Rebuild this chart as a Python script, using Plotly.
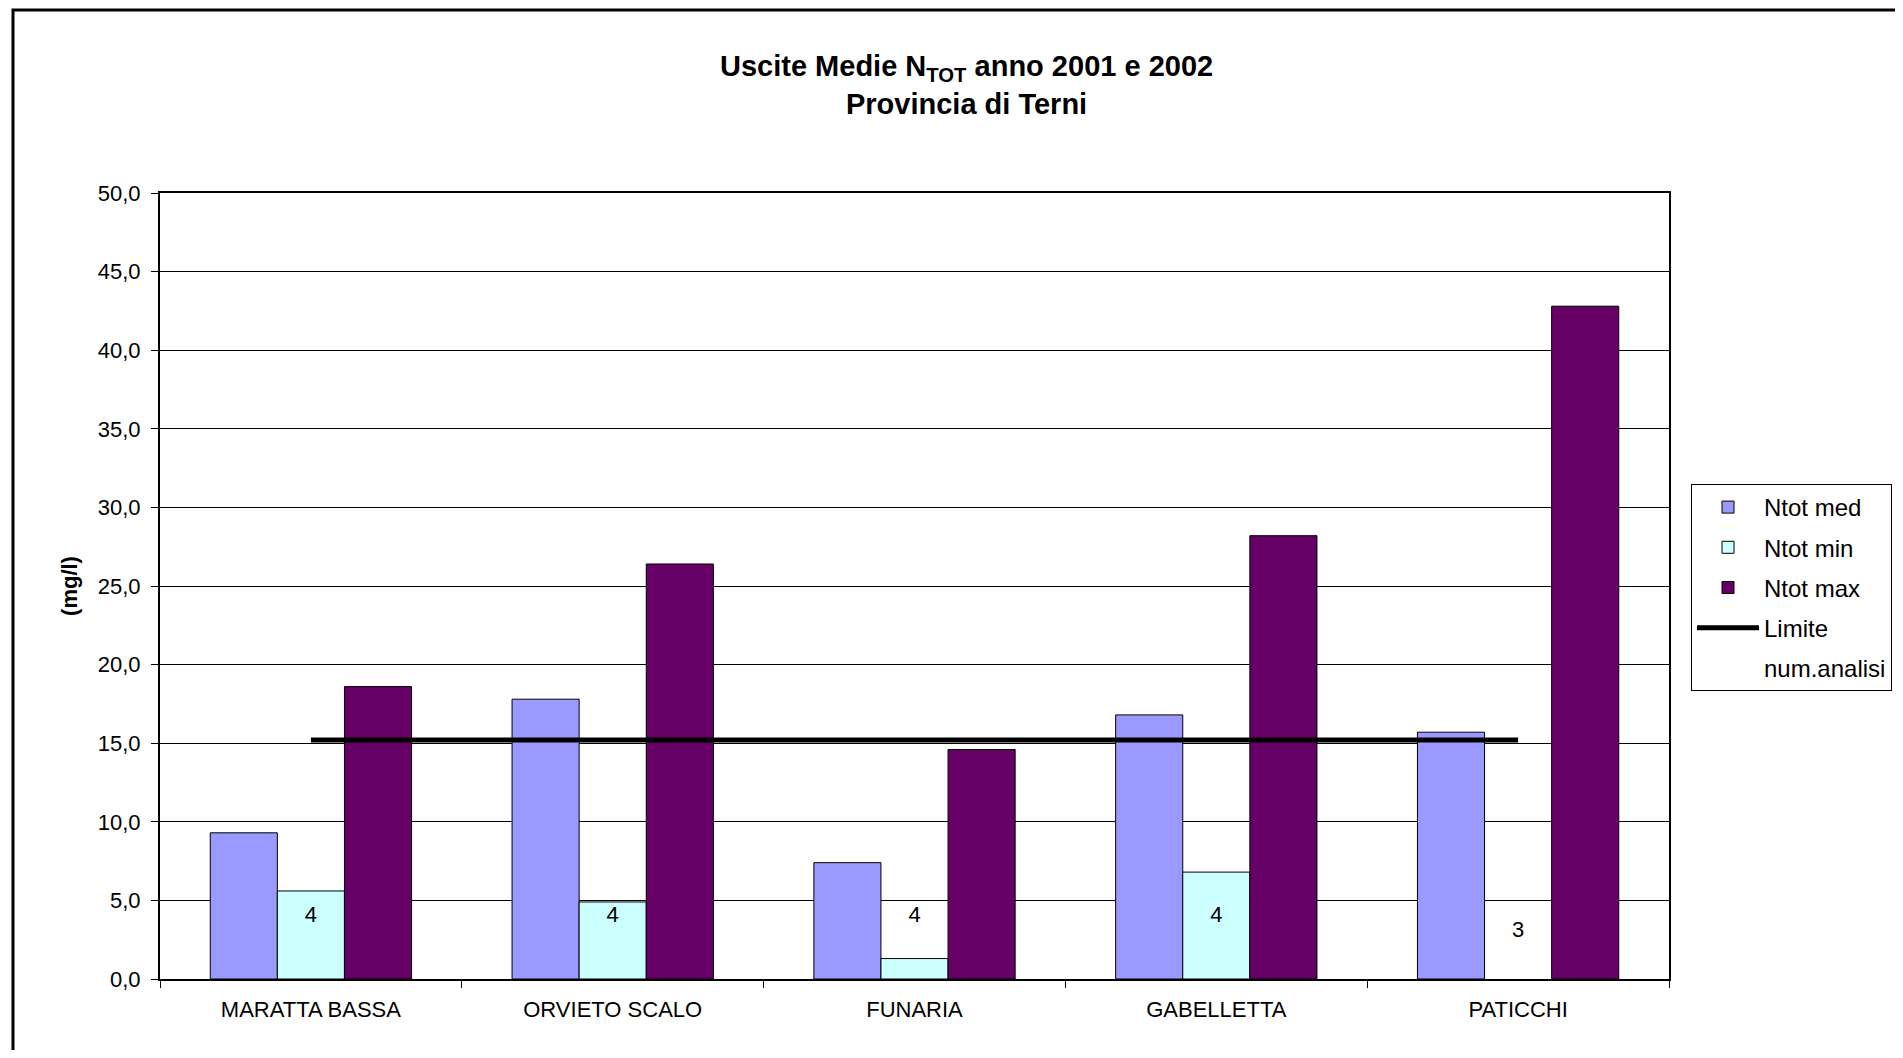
import plotly.graph_objects as go

categories = ["MARATTA BASSA", "ORVIETO SCALO", "FUNARIA", "GABELLETTA", "PATICCHI"]
ntot_med = [9.3, 17.8, 7.4, 16.8, 15.7]
ntot_min = [5.6, 4.9, 1.3, 6.8, None]
ntot_max = [18.6, 26.4, 14.6, 28.2, 42.8]
limite = [15.2, 15.2, 15.2, 15.2, 15.2]
num_analisi = [4, 4, 4, 4, 3]
y_ticks = [0, 5, 10, 15, 20, 25, 30, 35, 40, 45, 50]

# page has an 8px body margin: figure coordinates = page coordinates - 8
OFF = 8
W, H = 1903 - 2 * OFF, 1058 - 2 * OFF
L, R, T, B = 160 - OFF, 1669 - OFF, 193 - OFF, 979 - OFF
pw, ph = R - L, B - T

FONT = "Liberation Sans, Arial, sans-serif"

fig = go.Figure()
fig.add_trace(go.Bar(x=categories, y=ntot_med, name="Ntot med", legendgroup="a",
                     marker=dict(color="#9999FF", line=dict(color="black", width=1))))
fig.add_trace(go.Bar(x=categories, y=ntot_min, name="Ntot min", legendgroup="b",
                     marker=dict(color="#CCFFFF", line=dict(color="black", width=1))))
fig.add_trace(go.Bar(x=categories, y=ntot_max, name="Ntot max", legendgroup="c",
                     marker=dict(color="#660066", line=dict(color="black", width=1))))
fig.add_trace(go.Scatter(x=categories, y=limite, name="Limite", mode="lines", legendgroup="d",
                         line=dict(color="black", width=5)))
fig.add_trace(go.Scatter(x=categories, y=num_analisi, name="num.analisi", mode="lines+text",
                         legendgroup="e",
                         text=[str(v) for v in num_analisi], textposition="middle center",
                         textfont=dict(family=FONT, size=22, color="black"),
                         line=dict(color="rgba(0,0,0,0)", width=0)))

fig.update_layout(
    width=W, height=H,
    margin=dict(l=L, r=W - R, t=T, b=H - B, autoexpand=False),
    paper_bgcolor="white", plot_bgcolor="white",
    font=dict(family=FONT, color="black"),
    barmode="group", bargap=0.333, bargroupgap=0,
    showlegend=True,
    legend=dict(
        x=(1691 - OFF - L) / pw, xanchor="left", y=(B - (484 - OFF)) / ph, yanchor="top",
        bordercolor="black", borderwidth=1, bgcolor="white",
        font=dict(family=FONT, size=24, color="black"),
        tracegroupgap=6, traceorder="grouped", itemwidth=62,
    ),
    xaxis=dict(
        showline=True, linecolor="black", linewidth=2, mirror=True,
        ticks="outside", tickson="boundaries", ticklen=7, tickcolor="black", tickwidth=1,
        tickfont=dict(family=FONT, size=22, color="black"),
        ticklabelstandoff=10,
        showgrid=False,
    ),
    yaxis=dict(
        range=[0, 50], tickvals=y_ticks, tickformat=".1f",
        showline=True, linecolor="black", linewidth=2, mirror=True,
        ticks="outside", ticklen=7, tickcolor="black", tickwidth=1,
        tickfont=dict(family=FONT, size=22, color="black"),
        ticklabelstandoff=6,
        showgrid=True, gridcolor="black", gridwidth=1,
        zeroline=False,
        title=dict(text="<b>(mg/l)</b>", font=dict(family=FONT, size=22, color="black"), standoff=14),
    ),
    separators=",.",
)

fig.add_annotation(
    text="<b>Uscite Medie N<sub>TOT</sub> anno 2001 e 2002<br>Provincia di Terni</b>",
    xref="paper", yref="paper",
    x=(966 - OFF - L) / pw, xanchor="center",
    y=(B - (48 - OFF)) / ph, yanchor="top",
    showarrow=False, align="center",
    font=dict(family=FONT, size=29, color="black"),
)

fig.add_shape(type="rect", xref="paper", yref="paper",
              x0=(13 - OFF - L) / pw, x1=(1930 - L) / pw,
              y0=(B - 1090) / ph, y1=(B - (10 - OFF)) / ph,
              line=dict(color="black", width=3), fillcolor="rgba(0,0,0,0)", layer="below")

fig.write_html("out.html")
